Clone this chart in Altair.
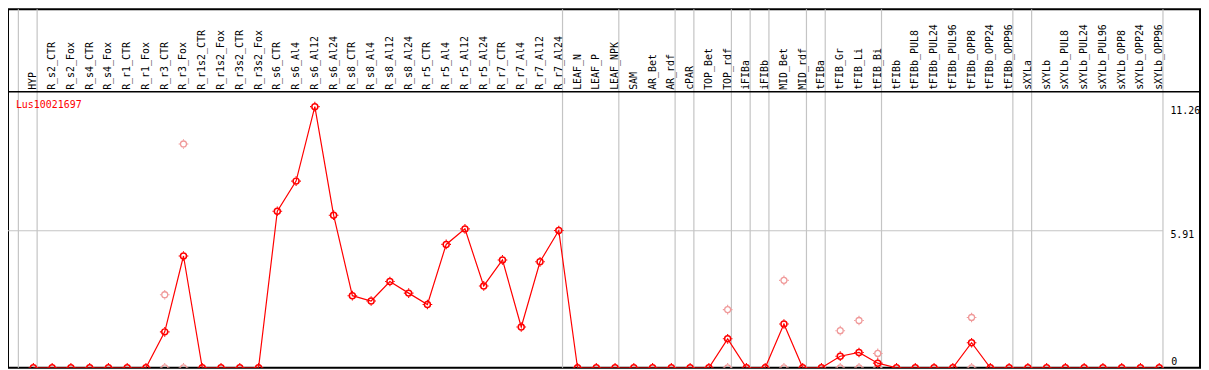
import math
import altair as alt
import pandas as pd

gene = "Lus10021697"

categories = [
    "HYP", "R_s2_CTR", "R_s2_Fox", "R_s4_CTR", "R_s4_Fox", "R_r1_CTR", "R_r1_Fox",
    "R_r3_CTR", "R_r3_Fox", "R_r1s2_CTR", "R_r1s2_Fox", "R_r3s2_CTR", "R_r3s2_Fox",
    "R_s6_CTR", "R_s6_Al4", "R_s6_Al12", "R_s6_Al24", "R_s8_CTR", "R_s8_Al4",
    "R_s8_Al12", "R_s8_Al24", "R_r5_CTR", "R_r5_Al4", "R_r5_Al12", "R_r5_Al24",
    "R_r7_CTR", "R_r7_Al4", "R_r7_Al12", "R_r7_Al24", "LEAF_N", "LEAF_P", "LEAF_NPK",
    "SAM", "AR_Bet", "AR_rdf", "cPAR", "TOP_Bet", "TOP_rdf", "iFIBa", "iFIBb",
    "MID_Bet", "MID_rdf", "tFIBa", "tFIB_Gr", "tFIB_Li", "tFIB_Bi", "tFIBb",
    "tFIBb_PUL8", "tFIBb_PUL24", "tFIBb_PUL96", "tFIBb_OPP8", "tFIBb_OPP24",
    "tFIBb_OPP96", "sXYLa", "sXYLb", "sXYLb_PUL8", "sXYLb_PUL24", "sXYLb_PUL96",
    "sXYLb_OPP8", "sXYLb_OPP24", "sXYLb_OPP96",
]

means = [
    0, 0, 0, 0, 0, 0, 0,
    1.55, 4.82, 0, 0, 0, 0,
    6.75, 8.05, 11.26, 6.58, 3.11, 2.88,
    3.72, 3.22, 2.73, 5.32, 5.99, 3.53,
    4.65, 1.76, 4.57, 5.92, 0, 0, 0,
    0, 0, 0, 0, 0, 1.25, 0, 0,
    1.89, 0, 0, 0.50, 0.66, 0.20, 0,
    0, 0, 0, 1.08, 0,
    0, 0, 0, 0, 0, 0,
    0, 0, 0,
]

rep_index = [8, 8, 9, 9, 38, 38, 41, 41, 44, 44, 45, 45, 46, 46, 51, 51]
rep_value = [3.15, 0, 9.65, 0, 2.51, 0, 3.77, 0, 1.60, 0, 2.04, 0, 0.62, 0, 2.17, 0]

group_ends = [0, 1, 29, 32, 35, 36, 38, 39, 40, 42, 43, 46, 53, 54, 61]
tick_values = [11.26, 5.91]
tick_labels = ["11.26", "5.91"]
zero_label = ["0"]

# layout constants
W, H = 1200, 361
SX = 1200 / 1207
SY = 361 / 369
X0 = 25.7 * SX
X1 = 1165.7 * SX
YTOP = 85 * SY
YBOT = 369 * SY
YMAX = 11.9
STEP = (X1 - X0) / 60
XLEFT = 1 - X0 / STEP
FONT = "DejaVu Sans Mono"

# marker shapes: ring and short ticks drawn as separate symbols
TICKS = "M0,-1L0,-0.72M0,0.72L0,1M-1,0L-0.72,0M0.72,0L1,0"

df = pd.DataFrame({"i": list(range(1, len(categories) + 1)), "cat": categories, "v": means})
reps = pd.DataFrame({"i": rep_index, "v": rep_value})
grid = pd.DataFrame({"x": [g + 0.2 for g in group_ends]})
hgrid = pd.DataFrame({"x": [XLEFT], "x2": [61.2], "y": [5.91]})
sep = pd.DataFrame({"y": [YMAX]})
ticks = pd.DataFrame({"y": tick_values, "t": tick_labels})
zero = pd.DataFrame({"y": [0], "t": zero_label})
title = pd.DataFrame({"t": [gene]})

xs = alt.Scale(domain=[1, 61], range=[X0, X1], nice=False, zero=False)
ys = alt.Scale(domain=[0, YMAX], range=[YBOT, YTOP], nice=False, zero=False)
enc = dict(x=alt.X("i:Q", scale=xs, axis=None), y=alt.Y("v:Q", scale=ys, axis=None))


def markers(data, color, sw):
    ring = alt.Chart(data).mark_point(
        shape="circle", size=36, filled=False, color=color, strokeWidth=sw, opacity=1, clip=True
    ).encode(**enc)
    tk = alt.Chart(data).mark_point(
        shape=TICKS, size=95, filled=False, color=color, strokeWidth=1.1, opacity=1, clip=True
    ).encode(**enc)
    return [ring, tk]


vgrid = alt.Chart(grid).mark_rule(color="#c4c4c4", strokeWidth=1.2).encode(
    x=alt.X("x:Q", scale=xs, axis=None), y=alt.value(0), y2=alt.value(H)
)
hline = alt.Chart(hgrid).mark_rule(color="#c4c4c4", strokeWidth=1.2).encode(
    x=alt.X("x:Q", scale=xs, axis=None), x2="x2:Q", y=alt.Y("y:Q", scale=ys, axis=None)
)
sepline = alt.Chart(sep).mark_rule(color="black", strokeWidth=1.5).encode(
    x=alt.value(0), x2=alt.value(W), y=alt.Y("y:Q", scale=ys, axis=None)
)
line = alt.Chart(df).mark_line(color="#ff0000", strokeWidth=1.2, clip=True).encode(**enc)
labels = alt.Chart(df).mark_text(
    angle=270, align="left", baseline="middle", font=FONT, fontSize=10, color="black"
).encode(x=alt.X("i:Q", scale=xs, axis=None), y=alt.value(83 * SY), text="cat:N")
ttl = alt.Chart(title).mark_text(
    align="left", baseline="alphabetic", font=FONT, fontSize=10, color="#ff0000"
).encode(x=alt.value(8 * SX), y=alt.value(101.8 * SY), text="t:N")
tick_txt = alt.Chart(ticks).mark_text(
    align="left", baseline="top", font=FONT, fontSize=10, color="black", dy=-1
).encode(x=alt.value(1177 * SX), y=alt.Y("y:Q", scale=ys, axis=None), text="t:N")
zero_txt = alt.Chart(zero).mark_text(
    align="left", baseline="alphabetic", font=FONT, fontSize=10, color="black", dy=-3
).encode(x=alt.value(1178 * SX), y=alt.Y("y:Q", scale=ys, axis=None), text="t:N")

chart = alt.layer(
    vgrid, hline, sepline,
    *markers(reps, "#f09a9a", 1.3),
    line,
    *markers(df, "#ff0000", 1.5),
    labels, ttl, tick_txt, zero_txt,
).properties(
    width=W, height=H,
    autosize=alt.AutoSizeParams(type="none"),
    padding={"left": 0, "top": 0, "right": 1, "bottom": 1},
    background="white",
).configure_view(stroke="black", strokeWidth=2)

chart.save("out.html", embed_options={"renderer": "svg", "actions": False})
